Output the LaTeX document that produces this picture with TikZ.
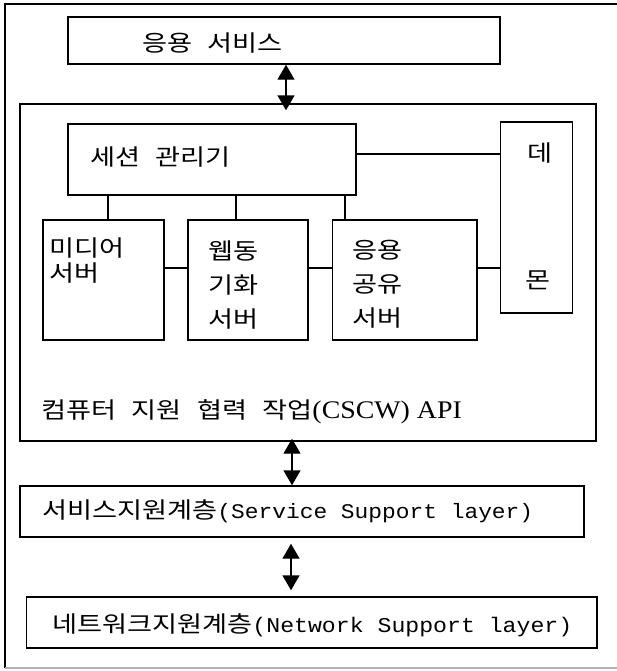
\documentclass[tikz,border=0pt]{standalone}
\usepackage{fontspec}
\newfontfamily\kr[FakeStretch=1.2]{Noto Sans CJK KR}
\newfontfamily\lmono[FakeStretch=1.1]{Liberation Mono}
\newfontfamily\lserif[FakeStretch=1.1]{Liberation Serif}
\usetikzlibrary{arrows.meta}
\newcommand\ksp{\hspace{11.5pt}}
\begin{document}
\begin{tikzpicture}[x=0.75pt,y=-0.75pt,
  box/.style={draw, line width=1.1pt, inner sep=0pt},
  link/.style={line width=1.1pt},
  arr/.style={{Triangle[length=11.25pt,width=12.75pt]}-{Triangle[length=11.25pt,width=12.75pt]}, line width=1.1pt},
  txt/.style={font=\kr\fontsize{17}{19}\selectfont, inner sep=0pt, anchor=west, align=left},
  txtA/.style={txt, font=\kr\fontsize{17}{18.75}\selectfont},
  txtB/.style={txt, font=\kr\fontsize{17}{25.5}\selectfont}]
\useasboundingbox (0,0) rectangle (617,671);
% outer frame
\draw[line width=1pt] (617,4) -- (5,4) -- (5,668);
\draw[line width=1pt, gray!60] (5,668) -- (617,668);

% boxes
\node[box, minimum width=324pt, minimum height=35.25pt] (app) at (284,40.5) {};
\node[box, minimum width=432pt, minimum height=252.75pt] (cscw) at (308,272.5) {};
\node[box, minimum width=216pt, minimum height=53.25pt] (sess) at (212,159.5) {};
\node[box, minimum width=54pt, minimum height=143.25pt] (demon) at (536.5,217.5) {};
\node[box, minimum width=90.75pt, minimum height=90pt] (media) at (103.5,280) {};
\node[box, minimum width=90pt, minimum height=90pt] (web) at (248,280) {};
\node[box, minimum width=108.4pt, minimum height=90pt] (share) at (404.75,280) {};
\node[box, minimum width=423pt, minimum height=38.25pt] (ssl) at (302,511.5) {};
\node[box, minimum width=428pt, minimum height=38.25pt] (nsl) at (311.7,622.5) {};

% texts
\node[txt] (tapp) at (142,43) {응용\ksp 서비스};
\node[txt] (tsess) at (90,157) {세션\ksp 관리기};
\node[txt] (tde) at (527,153) {데};
\node[txt] (tmon) at (525,280) {몬};
\node[txtA, anchor=north west] (tmedia) at (49,237) {미디어\\서버};
\node[txtB, anchor=north west] (tweb) at (208.6,240) {웹동\\기화\\서버};
\node[txtB, anchor=north west] (tshare) at (352,240) {응용\\공유\\서버};
\node[txt] (tcscw) at (41,412) {컴퓨터\ksp 지원\ksp 협력\ksp 작업{\lserif\fontsize{19}{19}\selectfont(CSCW) API}};
\node[txt] (tssl) at (42,511) {서비스지원계층{\lmono\fontsize{15.6}{19}\selectfont(Service Support layer)}};
\node[txt] (tnsl) at (52,625) {네트워크지원계층{\lmono\fontsize{15.8}{19}\selectfont(Network Support layer)}};

% connectors inside CSCW
\draw[link] (sess.east |- 0,154) -- (demon.west |- 0,154);
\draw[link] (sess.south -| 108,0) -- (media.north -| 108,0);
\draw[link] (sess.south -| 236,0) -- (web.north -| 236,0);
\draw[link] (sess.south -| 345,0) -- (share.north -| 345,0);
\draw[link] (media.east |- 0,268) -- (web.west |- 0,268);
\draw[link] (web.east |- 0,268) -- (share.west |- 0,268);
\draw[link] (share.east |- 0,268) -- (demon.west |- 0,268);

% arrows
\draw[arr] (app.south -| 286,0) -- ([yshift=-5.25pt]cscw.north -| 286,0);
\draw[arr] ([yshift=2.25pt]cscw.south -| 292,0) -- (ssl.north -| 292,0);
\draw[arr] ([yshift=-4.5pt]ssl.south -| 291,0) -- ([yshift=4.5pt]nsl.north -| 291,0);
\end{tikzpicture}
\end{document}
